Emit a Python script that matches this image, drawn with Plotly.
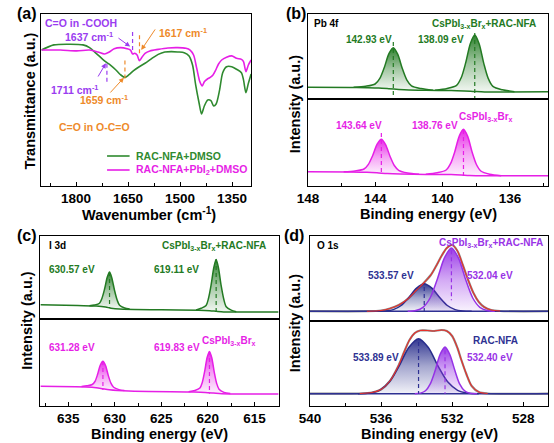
import plotly.graph_objects as go

W, H = 554, 443
FONT = "Liberation Sans, Arial, Helvetica, sans-serif"

# ---------------- data: panel (a) FTIR ----------------
wn_dmso = [1900,1864,1817,1780,1761,1742,1723,1711,1700,1685,1671,1659,1648,1634,1620,1601,1582,1563,1544,1525,1507,1488,1474,1464,1455,1445,1438,1430,1420,1411,1403,1396,1386,1377,1366,1351,1337,1323,1317,1310,1303,1295]
t_dmso = [78.6,81.6,82.0,81.6,80.0,76.7,73.2,71.3,69.7,67.0,64.1,62.7,64.1,66.6,68.6,70.9,73.6,76.1,77.5,77.7,77.5,77.1,75.2,69.9,58.3,47.6,41.4,46.0,49.5,49.1,46.0,47.2,55.3,65.4,68.9,68.9,67.4,65.4,61.2,53.8,59.2,64.7]
wn_pbi2 = [1900,1845,1798,1761,1737,1718,1704,1690,1671,1653,1643,1637,1631,1624,1617,1610,1601,1587,1563,1535,1507,1483,1471,1461,1452,1443,1436,1430,1422,1413,1405,1398,1389,1380,1366,1351,1337,1323,1317,1310,1303,1295]
t_pbi2 = [78.6,78.6,78.1,78.6,77.5,76.3,77.5,79.4,80.0,79.4,78.6,76.3,76.7,75.7,72.4,74.4,76.7,78.1,79.0,79.8,80.0,79.6,78.6,75.7,68.0,60.2,57.7,60.2,61.6,62.7,64.1,66.6,70.5,72.8,74.4,75.2,73.8,73.2,71.9,66.0,69.9,72.8]
a_marks = [1711, 1659, 1637, 1617]
a_mark_lo = [60.2, 62.1, 78.6, 76.7]
a_mark_hi = [71.9, 73.8, 89.9, 87.4]

# ---------------- data: panel (b) Pb 4f ----------------
b_top_bg_e = [148, 145.5, 144.5, 143.8, 143.2, 142.6, 142.0, 141.0, 139.5, 138.7, 138.1, 137.5, 136.5, 133.73]
b_top_bg_i = [11.7, 11.5, 11.2, 10.9, 10.3, 9.6, 9.1, 8.7, 8.4, 8.0, 7.5, 7.1, 7.0, 7.2]
b_top_pk1_e = [145.29, 144.57, 144.01, 143.73, 143.47, 143.19, 142.93, 142.67, 142.39, 142.13, 141.85, 141.29, 140.57]
b_top_pk1_i = [11.8, 12.8, 15.0, 20.6, 31.2, 45.3, 51.3, 44.8, 30.2, 19.2, 13.2, 10.4, 8.8]
b_top_pk2_e = [140.45, 139.73, 139.17, 138.89, 138.63, 138.35, 138.09, 137.83, 137.55, 137.29, 137.01, 136.45, 135.73]
b_top_pk2_i = [8.7, 10.5, 13.7, 21.5, 36.1, 55.6, 64.0, 55.3, 35.4, 20.6, 12.6, 9.2, 7.3]
b_bot_bg_e = [148, 145.5, 144.5, 143.9, 143.3, 142.5, 141, 139.5, 138.9, 138.4, 137.5, 133.73]
b_bot_bg_i = [14.3, 14.0, 13.7, 13.2, 12.4, 11.9, 11.6, 11.4, 11.0, 10.5, 10.2, 10.3]
b_bot_pk1_e = [145.88, 145.2, 144.67, 144.41, 144.16, 143.89, 143.64, 143.39, 143.12, 142.87, 142.61, 142.08, 141.4]
b_bot_pk1_i = [14.2, 15.1, 17.0, 21.6, 30.3, 41.8, 46.7, 41.4, 29.5, 20.5, 15.7, 13.0, 11.8]
b_bot_pk2_e = [141.0, 140.32, 139.79, 139.53, 139.28, 139.01, 138.76, 138.51, 138.24, 137.99, 137.73, 137.2, 136.52]
b_bot_pk2_i = [11.8, 13.3, 16.0, 22.3, 34.1, 49.9, 56.7, 49.6, 33.5, 21.5, 15.0, 11.8, 10.3]

# ---------------- data: panel (c) I 3d ----------------
c_top_bg_e = [638, 634, 632, 631, 630.4, 629.5, 625, 621, 619.8, 619.1, 618.3, 616, 612.4]
c_top_bg_i = [14.3, 13.4, 12.9, 12.0, 10.8, 9.9, 9.2, 8.8, 8.3, 7.7, 7.1, 7.0, 7.0]
c_top_pk1_e = [632.73, 632.19, 631.65, 631.39, 631.11, 630.81, 630.57, 630.33, 630.03, 629.75, 629.49, 628.95, 628.41]
c_top_pk1_i = [13.2, 14.0, 15.8, 20.6, 29.7, 41.9, 47.0, 41.3, 28.5, 18.9, 13.7, 11.0, 10.0]
c_top_pk2_e = [621.27, 620.73, 620.19, 619.93, 619.65, 619.35, 619.11, 618.87, 618.57, 618.29, 618.03, 617.49, 616.95]
c_top_pk2_i = [9.0, 10.7, 13.6, 20.8, 34.1, 52.0, 59.6, 51.6, 33.3, 19.7, 12.3, 8.9, 7.3]
c_bot_bg_e = [638, 633.1, 632, 631.3, 630.6, 628.5, 621.5, 620.3, 619.4, 618.5, 612.4]
c_bot_bg_i = [19.7, 19.0, 18.3, 17.3, 16.3, 15.0, 14.0, 13.6, 13.0, 12.3, 12.0]
c_bot_pk1_e = [633.58, 633.0, 632.43, 632.14, 631.86, 631.57, 631.28, 630.99, 630.7, 630.42, 630.13, 629.56, 628.98]
c_bot_pk1_i = [19.6, 20.2, 21.5, 24.5, 31.4, 40.8, 44.7, 40.3, 30.4, 22.9, 18.7, 16.4, 15.5]
c_bot_pk2_e = [622.07, 621.39, 620.86, 620.6, 620.35, 620.08, 619.83, 619.58, 619.31, 619.06, 618.8, 618.27, 617.59]
c_bot_pk2_i = [14.3, 15.5, 17.9, 23.6, 34.3, 48.5, 54.6, 48.2, 33.6, 22.8, 16.8, 13.6, 12.4]

# ---------------- data: panel (d) O 1s ----------------
d_top_bg_e = [540, 526.6]
d_top_bg_i = [9.7, 9.7]
d_top_pk1_e = [536.2, 535.74, 535.31, 534.87, 534.44, 534.0, 533.57, 533.14, 532.7, 532.27, 531.83, 531.4, 530.9]
d_top_pk1_i = [9.7, 10.1, 11.4, 15.5, 23.5, 32.9, 37.3, 32.9, 23.5, 15.5, 11.4, 10.1, 9.7]
d_top_pk2_e = [534.5, 534.04, 533.64, 533.24, 532.84, 532.44, 532.04, 531.64, 531.24, 530.84, 530.44, 530.04, 529.6]
d_top_pk2_i = [9.7, 10.5, 13.7, 23.0, 41.4, 62.9, 73.0, 62.9, 41.4, 23.0, 13.7, 10.5, 9.7]
d_top_env_e = [540, 536.8, 536.0, 535.5, 535.0, 534.5, 534.0, 533.6, 533.2, 532.9, 532.6, 532.3, 532.0, 531.7, 531.4, 531.1, 530.8, 530.5, 530.2, 529.8, 529.3, 526.6]
d_top_env_i = [9.8, 9.8, 10.5, 12.5, 16, 22, 31, 38, 46, 55, 65, 73, 76, 70, 56, 41, 28, 19, 14, 11, 10, 9.8]
d_bot_bg_e = [540, 526.6]
d_bot_bg_i = [12.3, 12.3]
d_bot_pk1_e = [537.3, 536.64, 536.09, 535.54, 534.99, 534.44, 533.89, 533.34, 532.79, 532.24, 531.69, 531.14, 530.5]
d_bot_pk1_i = [12.3, 13.0, 15.7, 23.9, 39.8, 58.5, 67.3, 58.5, 39.8, 23.9, 15.7, 13.0, 12.3]
d_bot_pk2_e = [534.1, 533.78, 533.5, 533.23, 532.95, 532.68, 532.40, 532.13, 531.85, 531.58, 531.3, 531.03, 530.6]
d_bot_pk2_i = [12.3, 12.9, 15.2, 22.1, 35.7, 51.5, 59.0, 51.5, 35.7, 22.1, 15.2, 12.9, 12.3]
d_bot_env_e = [540, 537.2, 536.5, 536.0, 535.5, 535.0, 534.7, 534.4, 534.1, 533.8, 533.4, 533.0, 532.6, 532.3, 532.0, 531.7, 531.5, 531.2, 530.9, 530.5, 530.0, 526.6]
d_bot_env_i = [12.4, 12.5, 13.5, 16.5, 25, 41, 54, 66, 73, 75.5, 75.5, 75, 76, 75, 70, 58, 47, 32, 20, 14, 12.5, 12.4]

# ---------------- colors ----------------
GREEN_A = "#2f8a2f"
GREEN = "#237a23"
MAG = "#e61fe6"
PURP_A = "#9a3cf0"
ORANGE = "#ee8a2a"
NAVY = "#2e3192"
PURP = "#9933e6"
RED = "#e8302a"
GRAY = "#8c8c8c"

fig = go.Figure()

def xdom(l, r):
    return [l / W, r / W]

def ydom(t, b):
    return [1 - b / H, 1 - t / H]

AX = {
    1: ((31, 245), (14, 186)),
    2: ((303, 548), (14, 99)),
    3: ((303, 548), (99, 186)),
    4: ((30, 273), (236, 319)),
    5: ((30, 273), (319, 406)),
    6: ((305, 548), (236, 321)),
    7: ((305, 548), (321, 406)),
}
XR = {1: [1900, 1295], 2: [148, 133.73], 3: [148, 133.73], 4: [638, 612.4], 5: [638, 612.4],
      6: [540, 526.6], 7: [540, 526.6]}
YR = {1: [-0.58, 99.6], 2: [0, 85], 3: [0, 87], 4: [0, 83], 5: [0, 87], 6: [0, 85], 7: [0, 85]}
TICK = {1: (1350, 150, 75), 3: (136, 4, 2), 5: (615, 5, 2.5), 7: (528, 4, 2)}

lay = {}
for i, ((l, r), (t, b)) in AX.items():
    xn = "xaxis" if i == 1 else f"xaxis{i}"
    yn = "yaxis" if i == 1 else f"yaxis{i}"
    xa = dict(domain=xdom(l, r), range=XR[i], autorange=False, showgrid=False, zeroline=False,
              showline=True, mirror=True, linecolor="black", linewidth=1.3, anchor=("y" if i == 1 else f"y{i}"),
              fixedrange=True)
    if i in TICK:
        t0, dt, mdt = TICK[i]
        xa.update(tickmode="linear", tick0=t0, dtick=dt, ticks="inside", ticklen=4, tickwidth=1.2,
                  tickcolor="black",
                  tickfont=dict(family=FONT, size=13.5, color="black", weight="bold"),
                  minor=dict(ticks="inside", ticklen=3, tickwidth=1, dtick=mdt, tick0=t0, tickcolor="black"))
    else:
        xa.update(showticklabels=False, ticks="")
    ya = dict(domain=ydom(t, b), range=YR[i], autorange=False, showgrid=False, zeroline=False,
              showline=True, mirror=True, linecolor="black", linewidth=1.3, showticklabels=False, ticks="",
              anchor=("x" if i == 1 else f"x{i}"), fixedrange=True)
    lay[xn] = xa
    lay[yn] = ya


def ax(i):
    return ("x", "y") if i == 1 else (f"x{i}", f"y{i}")


def line(i, x, y, color, width=1.5, dash=None, shape="spline"):
    xs, ys = ax(i)
    fig.add_trace(go.Scatter(x=x, y=y, mode="lines", xaxis=xs, yaxis=ys, showlegend=False, hoverinfo="skip",
                             line=dict(color=color, width=width, dash=dash, shape=shape,
                                       smoothing=0.8 if shape == "spline" else None)))


def peak(i, x, y, rgb, width=1.5):
    xs, ys = ax(i)
    r, g, b = rgb
    lo, hi = min(y), max(y)
    fig.add_trace(go.Scatter(
        x=x, y=y, mode="lines", xaxis=xs, yaxis=ys, showlegend=False, hoverinfo="skip",
        fill="toself", fillcolor=f"rgba({r},{g},{b},0.4)",
        fillgradient=dict(type="vertical", start=lo, stop=hi,
                          colorscale=[[0, f"rgba({r},{g},{b},0.06)"], [0.5, f"rgba({r},{g},{b},0.42)"],
                                      [1, f"rgba({r},{g},{b},0.95)"]]),
        line=dict(color=f"rgb({r},{g},{b})", width=width, shape="spline", smoothing=0.8)))


def vdash(i, xv, y0, y1, color):
    line(i, [xv, xv], [y0, y1], color, width=1.2, dash="4px,3px", shape="linear")


# ---- panel (a)
line(1, wn_dmso, t_dmso, GREEN_A, 1.6)
line(1, wn_pbi2, t_pbi2, MAG, 1.6)
mark_cols = [PURP_A, ORANGE, PURP_A, ORANGE]
for m, lo, hi, c in zip(a_marks, a_mark_lo, a_mark_hi, mark_cols):
    vdash(1, m, lo, hi, c)

# ---- panel (b)
GR = (35, 122, 35)
MG = (230, 31, 230)
NV = (40, 45, 140)
PU = (150, 50, 230)
line(2, b_top_bg_e, b_top_bg_i, GREEN, 1.5)
peak(2, b_top_pk1_e, b_top_pk1_i, GR)
peak(2, b_top_pk2_e, b_top_pk2_i, GR)
vdash(2, 142.93, 57, 1, GREEN)
vdash(2, 138.09, 66, 1, GREEN)
line(3, b_bot_bg_e, b_bot_bg_i, MAG, 1.5)
peak(3, b_bot_pk1_e, b_bot_pk1_i, MG)
peak(3, b_bot_pk2_e, b_bot_pk2_i, MG)
vdash(3, 143.64, 53, 11, MAG)
vdash(3, 138.76, 56, 9, MAG)

# ---- panel (c)
line(4, c_top_bg_e, c_top_bg_i, GREEN, 1.5)
peak(4, c_top_pk1_e, c_top_pk1_i, GR)
peak(4, c_top_pk2_e, c_top_pk2_i, GR)
vdash(4, 630.57, 47, 11, GREEN)
vdash(4, 619.11, 60, 7, GREEN)
line(5, c_bot_bg_e, c_bot_bg_i, MAG, 1.5)
peak(5, c_bot_pk1_e, c_bot_pk1_i, MG)
peak(5, c_bot_pk2_e, c_bot_pk2_i, MG)
vdash(5, 631.28, 45, 16, MAG)
vdash(5, 619.83, 55, 12.3, MAG)

# ---- panel (d)
line(6, d_top_env_e, d_top_env_i, GRAY, 2.2)
line(6, d_top_bg_e, d_top_bg_i, NAVY, 1.4, shape="linear")
peak(6, d_top_pk1_e, d_top_pk1_i, NV)
peak(6, d_top_pk2_e, d_top_pk2_i, PU)
line(6, d_top_env_e[1:-1], d_top_env_i[1:-1], RED, 1.1)
vdash(6, 533.57, 34, 9.7, NAVY)
vdash(6, 532.04, 70.7, 20.7, PURP)
line(7, d_bot_env_e, d_bot_env_i, GRAY, 2.2)
line(7, d_bot_bg_e, d_bot_bg_i, NAVY, 1.4, shape="linear")
peak(7, d_bot_pk1_e, d_bot_pk1_i, NV)
peak(7, d_bot_pk2_e, d_bot_pk2_i, PU)
line(7, d_bot_env_e[1:-1], d_bot_env_i[1:-1], RED, 1.1)
vdash(7, 533.89, 64, 12.3, NAVY)
vdash(7, 532.40, 55.7, 12.3, PURP)

# ---------------- annotations ----------------
anns = []
shapes = []

def ann(text, px, py, color="black", size=10, xanchor="center", angle=0):
    anns.append(dict(text=text, x=px / W, y=1 - py / H, xref="paper", yref="paper", showarrow=False,
                     xanchor=xanchor, yanchor="middle", textangle=angle,
                     font=dict(family=FONT, size=size, color=color, weight="bold")))

def arrow(x0, y0, x1, y1, color):
    anns.append(dict(text="", x=x1, y=y1, ax=x0, ay=y0, xref="x", yref="y", axref="x", ayref="y",
                     showarrow=True, arrowhead=2, arrowsize=1, arrowwidth=1, arrowcolor=color))

# panel letters
ann("(a)", 16.5, 14, size=16)
ann("(b)", 290.5, 14, size=16)
ann("(c)", 16.5, 236, size=16)
ann("(d)", 289, 236, size=16)

# axis titles
ann("Transmittance (a.u.)", 19, 101, size=14.5, angle=-90)
ann("Intensity (a.u.)", 290, 104, size=14.5, angle=-90)
ann("Intensity (a.u.)", 16, 321, size=14.5, angle=-90)
ann("Intensity (a.u.)", 290, 323, size=14.5, angle=-90)
ann("Wavenumber (cm<sup>-1</sup>)", 141, 213.5, size=14.5)
ann("Binding energy (eV)", 426, 213.5, size=14.5)
ann("Binding energy (eV)", 152, 433.5, size=14.5)
ann("Binding energy (eV)", 427, 433.5, size=14.5)

# panel (a) labels
ann("C=O in -COOH", 33, 23, PURP_A, 10.5, "left")
ann("1637 cm<sup>-1</sup>", 80, 36, PURP_A, 10.5)
ann("1617 cm<sup>-1</sup>", 175, 32, ORANGE, 10.5)
ann("1711 cm<sup>-1</sup>", 65, 89, PURP_A, 10.5)
ann("1659 cm<sup>-1</sup>", 95, 100, ORANGE, 10.5)
ann("C=O in O-C=O", 85, 127, ORANGE, 10.5)
ann("RAC-NFA+DMSO", 125, 156, GREEN_A, 10.5, "left")
ann("RAC-NFA+PbI<sub>2</sub>+DMSO", 125, 170, MAG, 10.5, "left")
shapes.append(dict(type="line", xref="paper", yref="paper", x0=98 / W, x1=121 / W, y0=1 - 156 / H, y1=1 - 156 / H,
                   line=dict(color=GREEN_A, width=1.6)))
shapes.append(dict(type="line", xref="paper", yref="paper", x0=98 / W, x1=121 / W, y0=1 - 170 / H, y1=1 - 170 / H,
                   line=dict(color=MAG, width=1.6)))
arrow(1739, 62.3, 1714, 70.9, PURP_A)
arrow(1705, 53.0, 1662, 62.5, ORANGE)
arrow(1682, 86.2, 1644, 80.6, PURP_A)
arrow(1569, 91.5, 1612, 78.6, ORANGE)

CS = "CsPbI<sub>3-x</sub>Br<sub>x</sub>"
# panel (b)
ann("Pb 4f", 307, 24, "black", 10, "left")
ann(CS + "+RAC-NFA", 538, 24, GREEN, 10, "right")
ann("142.93 eV", 365, 39, GREEN, 10)
ann("138.09 eV", 438.5, 39, GREEN, 10)
ann(CS, 484.5, 117, MAG, 10)
ann("143.64 eV", 355, 125, MAG, 10)
ann("138.76 eV", 433, 125, MAG, 10)
# panel (c)
ann("I 3d", 37, 245, "black", 10, "left")
ann(CS + "+RAC-NFA", 262, 246, GREEN, 10, "right")
ann("630.57 eV", 62, 269, GREEN, 10)
ann("619.11 eV", 169, 269, GREEN, 10)
ann(CS, 222.5, 341, MAG, 10)
ann("631.28 eV", 62.5, 347, MAG, 10)
ann("619.83 eV", 169, 347, MAG, 10)
# panel (d)
ann("O 1s", 310, 246, "black", 10, "left")
ann(CS + "+RAC-NFA", 545, 243, PURP, 10, "right")
ann("533.57 eV", 387.5, 275, NAVY, 10)
ann("532.04 eV", 488.5, 275, PURP, 10)
ann("RAC-NFA", 494.5, 340, NAVY, 10)
ann("533.89 eV", 372.5, 357, NAVY, 10)
ann("532.40 eV", 488.5, 357, PURP, 10)

fig.update_layout(width=W, height=H, margin=dict(l=0, r=0, t=0, b=0), autosize=False,
                  paper_bgcolor="white", plot_bgcolor="white", showlegend=False,
                  font=dict(family=FONT, color="black"), annotations=anns, shapes=shapes, **lay)

fig.write_html("out.html")
